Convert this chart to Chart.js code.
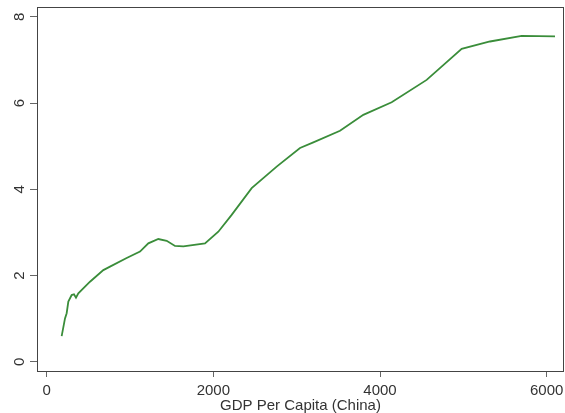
<!DOCTYPE html>
<html>
<head>
<meta charset="utf-8">
<script src="https://cdn.jsdelivr.net/npm/chart.js@4/dist/chart.umd.min.js"></script>
<style>
  html, body { margin: 0; padding: 0; background: #fff; }
  #wrap { width: 565px; height: 413px; }
</style>
</head>
<body>
<div id="wrap"><canvas id="chart" width="565" height="413"></canvas></div>
<script>
// datos
const gdpPerCapita = [180, 220, 240, 260, 300, 328, 352, 380, 520, 680, 720, 760, 960, 1120, 1220, 1340, 1440, 1540, 1640, 1900, 2060, 2220, 2460, 2760, 3040, 3200, 3520, 3800, 4140, 4560, 4980, 5320, 5700, 6100];
const yValues = [0.60, 1.01, 1.13, 1.40, 1.55, 1.57, 1.49, 1.59, 1.86, 2.13, 2.17, 2.21, 2.41, 2.56, 2.75, 2.85, 2.81, 2.69, 2.68, 2.75, 3.02, 3.41, 4.03, 4.53, 4.96, 5.09, 5.36, 5.73, 6.02, 6.54, 7.26, 7.43, 7.56, 7.55];
const xTicks = [0, 2000, 4000, 6000];
const yTicks = [0, 2, 4, 6, 8];
const xTitle = 'GDP Per Capita (China)';

const points = gdpPerCapita.map((x, i) => ({ x: x, y: yValues[i] }));

// marco alrededor del área del gráfico
const framePlugin = {
    id: 'frame',
    afterDraw(chart) {
        const a = chart.chartArea;
        const ctx = chart.ctx;
        ctx.save();
        ctx.strokeStyle = '#444';
        ctx.lineWidth = 1;
        ctx.strokeRect(a.left + 0.5, a.top + 0.5, a.right - a.left - 1, a.bottom - a.top);
        ctx.restore();
    }
};

// sin relleno automático de los ejes
function noPadding(s) {
    s.paddingLeft = 0;
    s.paddingRight = 0;
    s.paddingTop = 0;
    s.paddingBottom = 0;
}

const font = { family: 'Liberation Sans, Arial, sans-serif', size: 15 };

new Chart(document.getElementById('chart'), {
    type: 'scatter',
    data: {
        datasets: [{
            data: points,
            showLine: true,
            borderColor: '#3a8d3a',
            borderWidth: 1.8,
            pointRadius: 0,
            tension: 0
        }]
    },
    options: {
        responsive: false,
        animation: false,
        layout: { padding: { top: 7, right: 1, left: 0, bottom: 0 } },
        plugins: { legend: { display: false }, tooltip: { enabled: false } },
        scales: {
            x: {
                type: 'linear',
                min: -116,
                max: 6208,
                afterBuildTicks: s => { s.ticks = xTicks.map(v => ({ value: v })); },
                afterFit: s => { s.height = 42; noPadding(s); },
                border: { display: false },
                grid: { drawOnChartArea: false, drawTicks: true, tickLength: 6, color: '#666' },
                ticks: { color: '#333', font: font, padding: 5, maxRotation: 0, callback: v => String(v) },
                title: { display: true, text: xTitle, color: '#333', font: font, padding: { top: 0, bottom: -2 } }
            },
            y: {
                type: 'linear',
                min: -0.21,
                max: 8.23,
                afterBuildTicks: s => { s.ticks = yTicks.map(v => ({ value: v })); },
                afterFit: s => { s.width = 37; noPadding(s); },
                border: { display: false },
                grid: { drawOnChartArea: false, drawTicks: true, tickLength: 7, color: '#666' },
                ticks: { color: '#333', font: font, padding: 6, minRotation: 90, maxRotation: 90, crossAlign: 'center', callback: v => String(v) }
            }
        }
    },
    plugins: [framePlugin]
});
</script>
</body>
</html>
